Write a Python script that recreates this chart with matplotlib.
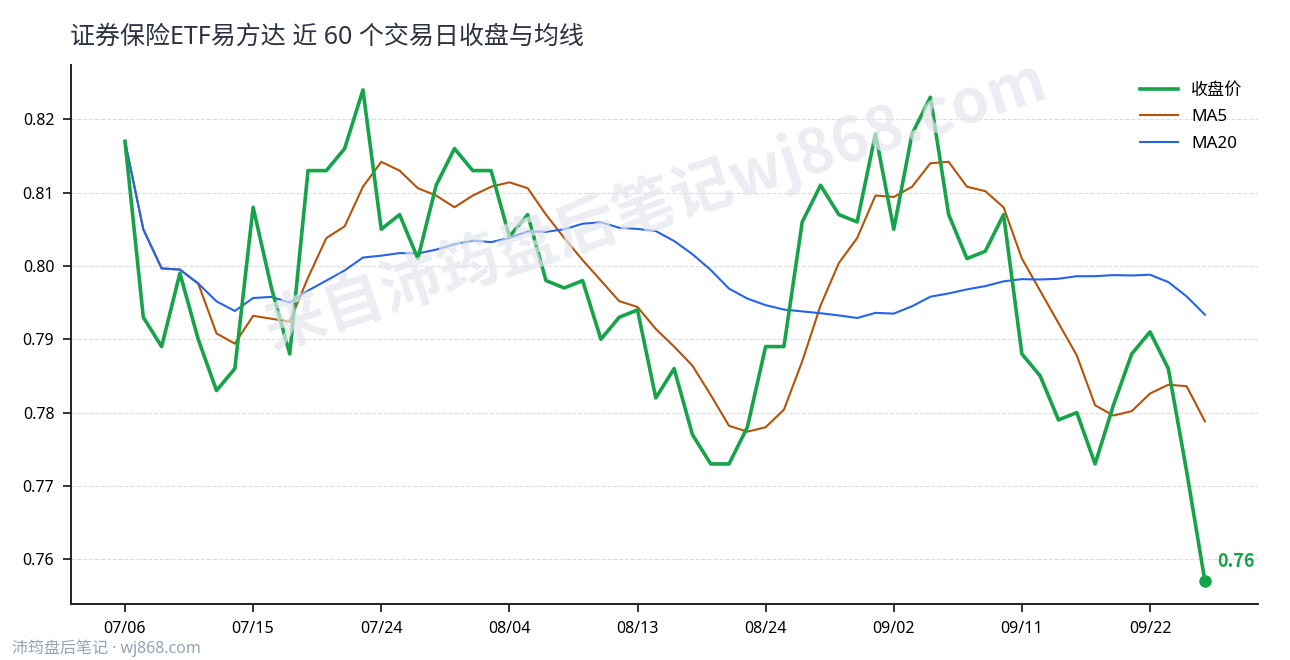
import numpy as np
import pandas as pd
import matplotlib
matplotlib.use('Agg')
import matplotlib.pyplot as plt

plt.rcParams['font.family'] = ['Noto Sans', 'Noto Sans CJK SC', 'DejaVu Sans']

# 数据：近 60 个交易日收盘价
start_date = '2020-07-06'
n_days = 60
close = [0.817, 0.793, 0.789, 0.799, 0.790, 0.783, 0.786, 0.808, 0.797, 0.788,
         0.813, 0.813, 0.816, 0.824, 0.805, 0.807, 0.801, 0.811, 0.816, 0.813,
         0.813, 0.804, 0.807, 0.798, 0.797, 0.798, 0.790, 0.793, 0.794, 0.782,
         0.786, 0.777, 0.773, 0.773, 0.778, 0.789, 0.789, 0.806, 0.811, 0.807,
         0.806, 0.818, 0.805, 0.818, 0.823, 0.807, 0.801, 0.802, 0.807, 0.788,
         0.785, 0.779, 0.780, 0.773, 0.781, 0.788, 0.791, 0.786, 0.772, 0.757]
tick_step = 7

title = '证券保险ETF易方达 近 60 个交易日收盘与均线'
watermark = '来自沛筠盘后笔记wj868.com'
footer = '沛筠盘后笔记 · wj868.com'

dates = pd.bdate_range(start_date, periods=n_days)
s = pd.Series(close)
ma5 = s.rolling(5, min_periods=1).mean()
ma20 = s.rolling(20, min_periods=1).mean()
x = np.arange(len(close))

fig = plt.figure(figsize=(12.9, 6.6), dpi=100)
ax = fig.add_axes([71 / 1290, 56 / 660, (1258 - 71) / 1290, (604 - 65) / 660])

# 水印
fig.text(0.508, 0.69, watermark, rotation=18, ha='center', va='center',
         fontsize=44, fontweight='bold', color='#e3e6ee', alpha=0.7, zorder=0,
         family=['Noto Sans CJK SC', 'DejaVu Sans'])

ax.plot(x, close, color='#16a34a', lw=2.6, label='收盘价', zorder=4)
ax.plot(x, ma5, color='#b45309', lw=1.5, label='MA5', zorder=3)
ax.plot(x, ma20, color='#2563eb', lw=1.5, label='MA20', zorder=3)

# 最后一个点
ax.plot(x[-1], close[-1], 'o', color='#16a34a', ms=8, zorder=5)
ax.annotate(f'{close[-1]:.2f}', (x[-1], close[-1]), xytext=(9, 14.5),
            textcoords='offset points', color='#16a34a', fontsize=13,
            fontweight='bold', va='center', ha='left',
            family=['Noto Sans CJK SC', 'DejaVu Sans'])

ax.set_xlim(-2.95, 61.9)
ax.set_ylim(0.7539, 0.8274)
ax.set_yticks([0.76, 0.77, 0.78, 0.79, 0.80, 0.81, 0.82])
ax.set_yticklabels([f'{v:.2f}' for v in ax.get_yticks()])
ticks = x[::tick_step]
ax.set_xticks(ticks)
ax.set_xticklabels([dates[i].strftime('%m/%d') for i in ticks])
ax.tick_params(labelsize=11.5, length=6, width=1.3, color='#222222', pad=6)

ax.grid(axis='y', linestyle='--', color='#dddddd', lw=0.8)
ax.set_axisbelow(True)
for side in ['top', 'right']:
    ax.spines[side].set_visible(False)
for side in ['left', 'bottom']:
    ax.spines[side].set_linewidth(1.4)
    ax.spines[side].set_color('#222222')
ax.patch.set_alpha(0)

ax.legend(loc='upper right', frameon=False, fontsize=12.3, handlelength=2.2,
          labelspacing=0.6, bbox_to_anchor=(1.0, 0.995))

fig.text(70 / 1290, 1 - 37 / 660, title, fontsize=18, color='#2d3340',
         ha='left', va='center')
fig.text(12 / 1290, 1 - 648 / 660, footer, fontsize=11.5, color='#94a3b8',
         ha='left', va='center')

fig.savefig('out.png', dpi=100)
